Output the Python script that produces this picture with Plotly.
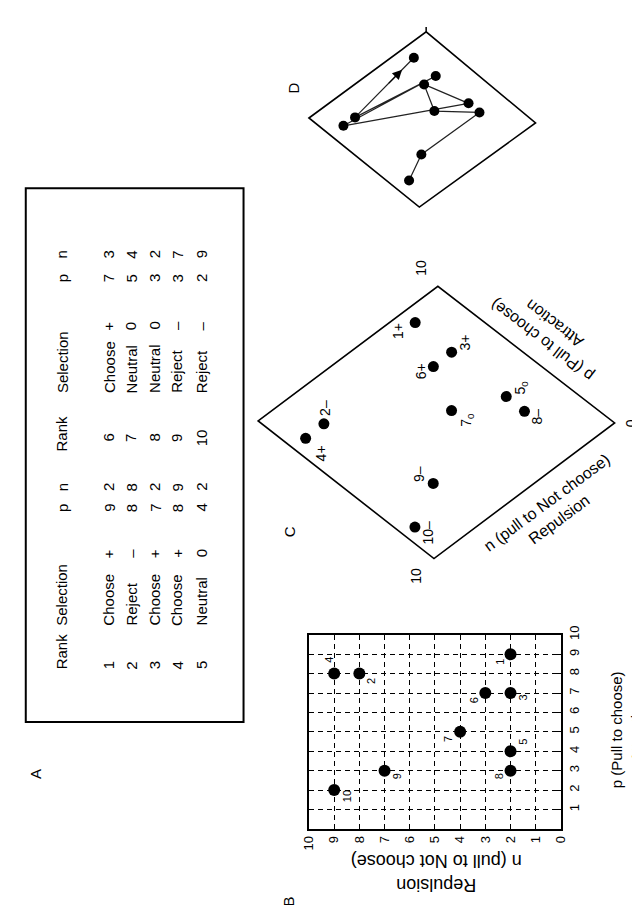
import plotly.graph_objects as go

# ---------------- data ----------------
ranks = [1, 2, 3, 4, 5, 6, 7, 8, 9, 10]
selections = ["Choose", "Reject", "Choose", "Choose", "Neutral",
              "Choose", "Neutral", "Neutral", "Reject", "Reject"]
signs = ["+", "–", "+", "+", "0", "+", "0", "0", "–", "–"]
p_values = [9, 8, 7, 8, 4, 7, 5, 3, 3, 2]
n_values = [2, 8, 2, 9, 2, 3, 4, 2, 7, 9]
c_point_labels = ["1+", "2–", "3+", "4+", "5<sub>0</sub>",
                  "6+", "7<sub>0</sub>", "8–", "9–", "10–"]
table_headers = ["Rank", "Selection", "p", "n"]
n_ticks = [0, 1, 2, 3, 4, 5, 6, 7, 8, 9, 10]
p_ticks = [1, 2, 3, 4, 5, 6, 7, 8, 9, 10]

# ---------------- styling / layout constants ----------------
W, H = 640, 905
REG = "Liberation Sans, Arial, Helvetica, sans-serif"
BLACK = "black"

annotations = []
shapes = []


def txt(x, y, s, size, angle=-90, xanchor="center", yanchor="middle",
        xref="x", yref="y", xshift=0, yshift=0):
    annotations.append(dict(x=x, y=y, xref=xref, yref=yref, text=s, showarrow=False,
                            textangle=angle, xanchor=xanchor, yanchor=yanchor,
                            xshift=xshift, yshift=yshift, borderpad=0,
                            font=dict(family=REG, size=size, color=BLACK)))


fig = go.Figure()

# ---------------- Panel A: table ----------------
shapes.append(dict(type="rect", xref="x", yref="y", x0=10, x1=233, y0=173, y1=712,
                   line=dict(color=BLACK, width=2)))
row_x = [95, 118, 142, 165, 190]
hdr_x = 47
halves = [dict(rank=655, rank_hdr=660, sel=616, sign=542, p=496, n=475),
          dict(rank=425, rank_hdr=440, sel=381, sign=312, p=264, n=240)]
TS = 15
for h, cols in enumerate(halves):
    txt(hdr_x, cols["rank_hdr"], table_headers[0], TS, yanchor="bottom")
    txt(hdr_x, cols["sel"], table_headers[1], TS, yanchor="bottom")
    txt(hdr_x, cols["p"], table_headers[2], TS)
    txt(hdr_x, cols["n"], table_headers[3], TS)
    for i in range(5):
        k = h * 5 + i
        x = row_x[i]
        txt(x, cols["rank"], str(ranks[k]), TS)
        txt(x, cols["sel"], selections[k], TS, yanchor="bottom")
        txt(x, cols["sign"], signs[k], TS)
        txt(x, cols["p"], str(p_values[k]), TS)
        txt(x, cols["n"], str(n_values[k]), TS)

# ---------------- Panel B: grid scatter ----------------
fig.add_trace(go.Scatter(x=n_values, y=p_values, xaxis="x2", yaxis="y2", mode="markers",
                         marker=dict(size=12, color=BLACK), cliponaxis=False,
                         hoverinfo="skip"))
b_off = [(-10, 8), (11, 7), (12, 5), (-6, -14), (13, -9),
         (-11, 7), (-12, 7), (-12, 6), (12, 6), (13, 6)]
for k in range(10):
    txt(n_values[k], p_values[k], str(ranks[k]), 11, xref="x2", yref="y2",
        xshift=b_off[k][0], yshift=-b_off[k][1])
txt(626, 720, "p (Pull to choose)<br>Attraction", 15)
txt(430, 865, "Repulsion<br>n (pull to Not choose)", 18, angle=180)

# ---------------- Panel C: rotated scatter ----------------
C_O, C_P, C_N = (614, 414), (-18.65, -14.94), (-18.69, 14.56)
cx = [C_O[0] + p * C_P[0] + n * C_N[0] for p, n in zip(p_values, n_values)]
cy = [C_O[1] + p * C_P[1] + n * C_N[1] for p, n in zip(p_values, n_values)]
fig.add_trace(go.Scatter(x=cx, y=cy, xaxis="x", yaxis="y", mode="markers",
                         marker=dict(size=11, color=BLACK), hoverinfo="skip"))
shapes.append(dict(type="path", xref="x", yref="y",
                   path="M 248 408 L 432 272 L 613 410 L 428 547 Z",
                   line=dict(color=BLACK, width=1.6)))
c_off = [(-18, 9), (1, -16), (14, -10), (16, 15), (15, -9),
         (-13, 5), (15, 9), (13, 5), (-15, -9), (13, 6)]
for k in range(10):
    txt(cx[k] + c_off[k][0], cy[k] + c_off[k][1], c_point_labels[k], 14)
txt(415, 253, "10", 14)
txt(630, 410, "0", 14)
txt(410, 564, "10", 14)
txt(545, 318, "p (Pull to choose)<br>Attraction", 16, angle=-142.7)
txt(550, 499, "n (pull to Not choose)<br>Repulsion", 16, angle=-36.5)

# ---------------- Panel D: path in rhombus ----------------
D_O, D_P, D_N = (532, 107), (-11.2, -9.2), (-11.9, 8.5)
dx = [D_O[0] + p * D_P[0] + n * D_N[0] for p, n in zip(p_values, n_values)]
dy = [D_O[1] + p * D_P[1] + n * D_N[1] for p, n in zip(p_values, n_values)]
order = list(range(9, -1, -1))  # rank 10 -> rank 1
fig.add_trace(go.Scatter(x=[dx[k] for k in order], y=[dy[k] for k in order],
                         xaxis="x", yaxis="y", mode="lines+markers",
                         line=dict(color="#222", width=1.2),
                         marker=dict(size=10, color=BLACK), hoverinfo="skip"))
shapes.append(dict(type="path", xref="x", yref="y",
                   path="M 300 102 L 420 15 L 532 107 L 413 192 Z",
                   line=dict(color=BLACK, width=1.6)))
shapes.append(dict(type="line", xref="x", yref="y", x0=420, x1=420, y0=10, y1=15,
                   line=dict(color=BLACK, width=1.5)))
# arrow on the last segment (rank 2 -> rank 1)
tipx, tipy = dx[1] + 0.8 * (dx[0] - dx[1]), dy[1] + 0.8 * (dy[0] - dy[1])
tailx, taily = dx[1] + 0.55 * (dx[0] - dx[1]), dy[1] + 0.55 * (dy[0] - dy[1])
annotations.append(dict(x=tipx, y=tipy, ax=tailx, ay=taily, xref="x", yref="y",
                        axref="x", ayref="y", text="", showarrow=True,
                        arrowhead=2, arrowsize=1.6, arrowwidth=1.2, arrowcolor=BLACK))

# ---------------- panel letters ----------------
txt(20, 765, "A", 15)
txt(279, 893, "B", 15)
txt(280, 520, "C", 15)
txt(284, 72, "D", 15)

axis_common = dict(showline=True, linecolor=BLACK, linewidth=2, mirror="ticks",
                   ticks="inside", ticklen=4, tickcolor=BLACK, showgrid=True,
                   gridcolor=BLACK, gridwidth=1, griddash="5px,4px", zeroline=False,
                   tickangle=-90, tickmode="array",
                   tickfont=dict(family=REG, size=13, color=BLACK), fixedrange=True)

fig.update_layout(
    width=W, height=H, margin=dict(l=0, r=0, t=0, b=0),
    paper_bgcolor="white", plot_bgcolor="rgba(0,0,0,0)", showlegend=False,
    xaxis=dict(domain=[0, 1], range=[0, W], visible=False, fixedrange=True),
    yaxis=dict(domain=[0, 1], range=[H, 0], visible=False, fixedrange=True),
    xaxis2=dict(domain=[300 / W, 558 / W], anchor="y2", range=[10, 0],
                tickvals=n_ticks, ticktext=[str(v) for v in n_ticks], **axis_common),
    yaxis2=dict(domain=[(H - 820) / H, (H - 624) / H], anchor="x2", side="right",
                range=[0, 10], tickvals=p_ticks, ticktext=[str(v) for v in p_ticks],
                **axis_common),
    annotations=annotations, shapes=shapes,
)

fig.write_html("out.html")
